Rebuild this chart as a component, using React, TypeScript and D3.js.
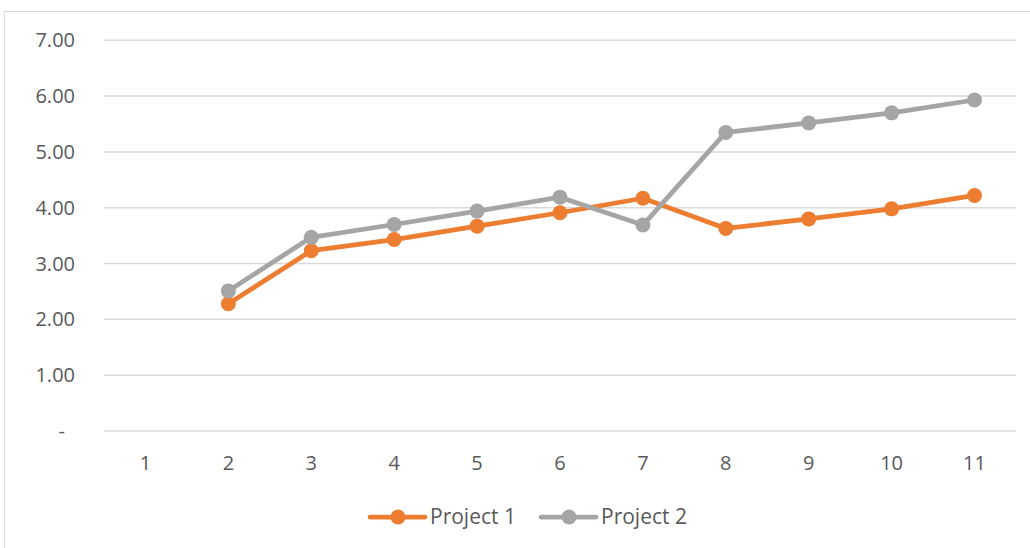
import React from "react";
import * as d3 from "d3";

const categories = ["1", "2", "3", "4", "5", "6", "7", "8", "9", "10", "11"];
const project1: (number | null)[] = [null, 2.28, 3.23, 3.43, 3.67, 3.91, 4.17, 3.63, 3.8, 3.98, 4.22];
const project2: (number | null)[] = [null, 2.51, 3.47, 3.7, 3.94, 4.19, 3.69, 5.35, 5.52, 5.7, 5.93];
const yTicks = [0, 1, 2, 3, 4, 5, 6, 7];

const series = [
  { name: "Project 1", values: project1, color: "#ED7D31" },
  { name: "Project 2", values: project2, color: "#A5A5A5" },
];

export default function App() {
  const W = 1030, H = 548;
  const x = d3.scaleBand().domain(categories).range([104, 1016]);
  const y = d3.scaleLinear().domain([0, 7]).range([431, 40.3]);
  const font = "'Open Sans', 'Noto Sans', sans-serif";
  const line = d3
    .line<number | null>()
    .defined((d) => d != null)
    .x((_, i) => (x(categories[i]) as number) + x.bandwidth() / 2)
    .y((d) => y(d as number));

  const legendItems = [
    { x0: 370, tx: 430 },
    { x0: 541, tx: 601 },
  ];

  return (
    <svg width={W} height={H} style={{ position: "absolute", left: 0, top: 0 }}>
      <rect x={0} y={0} width={W} height={H} fill="#fff" />
      <rect x={4.5} y={11.5} width={1040} height={560} fill="none" stroke="#D9D9D9" strokeWidth={1} />
      {yTicks.map((t) => (
        <g key={t}>
          <line x1={104} x2={1016} y1={y(t)} y2={y(t)} stroke="#D9D9D9" strokeWidth={1.5} />
          <text
            x={t === 0 ? 65 : 75}
            y={y(t)}
            dy="0.35em"
            textAnchor="end"
            fontFamily={font}
            fontSize={20}
            fill="#595959"
          >
            {t === 0 ? "-" : d3.format(".2f")(t)}
          </text>
        </g>
      ))}
      {categories.map((c) => (
        <text
          key={c}
          x={(x(c) as number) + x.bandwidth() / 2}
          y={462.5}
          dy="0.35em"
          textAnchor="middle"
          fontFamily={font}
          fontSize={20}
          fill="#595959"
        >
          {c}
        </text>
      ))}
      {series.map((s) => (
        <g key={s.name}>
          <path d={line(s.values) || ""} fill="none" stroke={s.color} strokeWidth={4.75} strokeLinejoin="round" strokeLinecap="round" />
          {s.values.map((v, i) =>
            v == null ? null : (
              <circle
                key={i}
                cx={(x(categories[i]) as number) + x.bandwidth() / 2}
                cy={y(v)}
                r={7.5}
                fill={s.color}
              />
            )
          )}
        </g>
      ))}
      {series.map((s, i) => (
        <g key={s.name}>
          <line x1={legendItems[i].x0} x2={legendItems[i].x0 + 55} y1={517} y2={517} stroke={s.color} strokeWidth={4.75} strokeLinecap="round" />
          <circle cx={legendItems[i].x0 + 28} cy={517} r={7.5} fill={s.color} />
          <text x={legendItems[i].tx} y={517} dy="0.35em" fontFamily={font} fontSize={21} fill="#595959">
            {s.name}
          </text>
        </g>
      ))}
    </svg>
  );
}
